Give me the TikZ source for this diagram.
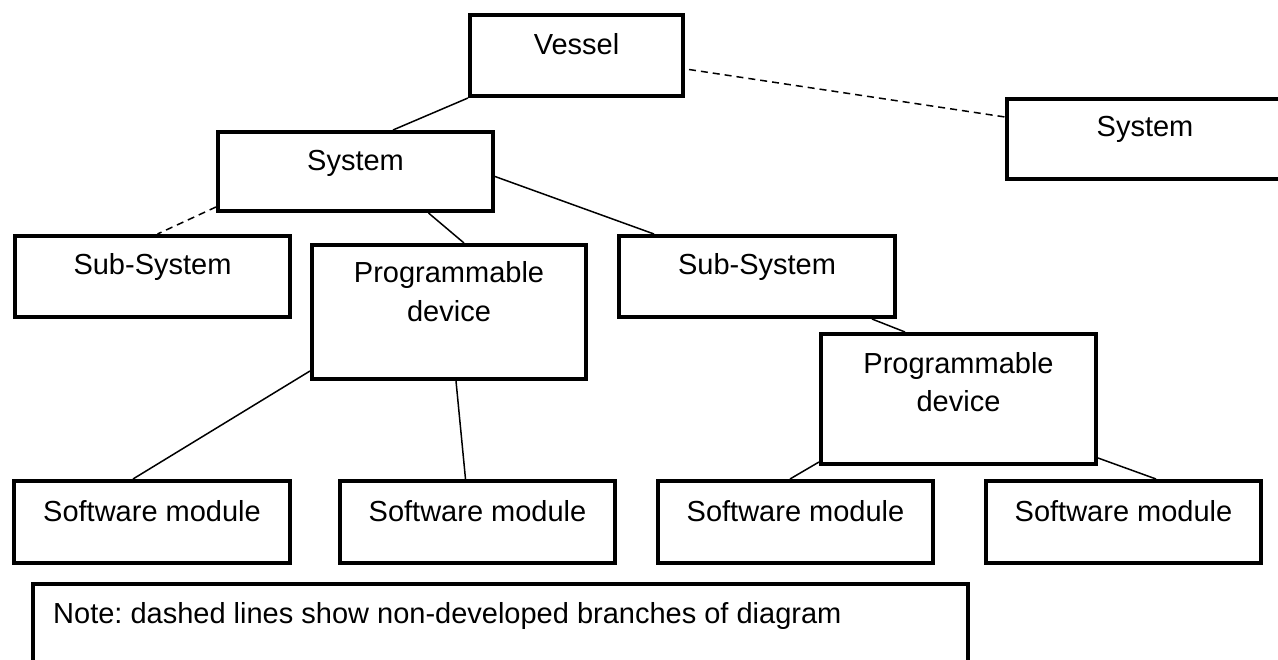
\documentclass[tikz,border=0pt]{standalone}
\usepackage{fontspec}
\setmainfont{Liberation Sans}
\usetikzlibrary{calc}
\frenchspacing
\tikzset{
  box/.style={draw=black, line width=4pt, rectangle, inner sep=0pt, fill=none},
  lbl/.style={inner sep=0pt, anchor=base, align=center, font=\fontsize{29}{38.5}\selectfont},
  conn/.style={line width=1.5pt, black},
  dconn/.style={line width=1.5pt, black, dash pattern=on 7pt off 5pt},
}
\begin{document}
\begin{tikzpicture}[x=1pt, y=-1pt]
\clip (0,0) rectangle (1278,660);
\fill[white] (0,0) rectangle (1278,660);
% boxes
\node[box, minimum width=213pt, minimum height=81pt] (vessel) at (576.5,55.5) {};
\node[box, minimum width=275pt, minimum height=79pt] (sysL) at (355.5,171.5) {};
\node[box, minimum width=276pt, minimum height=80pt] (sysR) at (1145,139) {};
\node[box, minimum width=275pt, minimum height=81pt] (subL) at (152.5,276.5) {};
\node[box, minimum width=274pt, minimum height=134pt] (pd1) at (449,312) {};
\node[box, minimum width=276pt, minimum height=81pt] (subR) at (757,276.5) {};
\node[box, minimum width=275pt, minimum height=130pt] (pd2) at (958.5,399) {};
\node[box, minimum width=276pt, minimum height=82pt] (sm1) at (152,522) {};
\node[box, minimum width=275pt, minimum height=82pt] (sm2) at (477.5,522) {};
\node[box, minimum width=275pt, minimum height=82pt] (sm3) at (795.5,522) {};
\node[box, minimum width=275pt, minimum height=82pt] (sm4) at (1123.5,522) {};
\node[box, minimum width=935pt, minimum height=114pt] (note) at (500.5,641) {};
% labels
\node[lbl] (vesselT) at ($(vessel.north)+(0,42)$) {Vessel};
\node[lbl] (sysLT) at ($(sysL.north)+(0,41)$) {System};
\node[lbl] (sysRT) at ($(sysR.north)+(0,40)$) {System};
\node[lbl] (subLT) at ($(subL.north)+(0,41)$) {Sub-System};
\node[lbl] (subRT) at ($(subR.north)+(0,41)$) {Sub-System};
\node[lbl] (pd1T) at ($(pd1.north)+(0,78.5)$) {Programmable\\device};
\node[lbl] (pd2T) at ($(pd2.north)+(0,79.5)$) {Programmable\\device};
\node[lbl] (sm1T) at ($(sm1.north)+(0,42)$) {Software module};
\node[lbl] (sm2T) at ($(sm2.north)+(0,42)$) {Software module};
\node[lbl] (sm3T) at ($(sm3.north)+(0,42)$) {Software module};
\node[lbl] (sm4T) at ($(sm4.north)+(0,42)$) {Software module};
\node[lbl, anchor=base west] (noteT) at ($(note.north west)+(22,41)$) {Note: dashed lines show non-developed branches of diagram};
% connectors
\draw[conn] (vessel.south west) -- ($(sysL.north west)+(177,0)$);
\draw[dconn] ($(vessel.east)+(4,14)$) -- ($(sysR.west)+(0,-22)$);
\draw[dconn] ($(sysL.south west)+(0,-6)$) -- ($(subL.north)+(5,0)$);
\draw[conn] ($(sysL.south)+(73,0)$) -- ($(pd1.north)+(15,0)$);
\draw[conn] ($(sysL.east)+(0,5)$) -- ($(subR.north west)+(37,0)$);
\draw[conn] ($(subR.south east)+(-25,0)$) -- ($(pd2.north west)+(86,0)$);
\draw[conn] ($(pd1.south west)+(0,-10)$) -- ($(sm1.north west)+(121,0)$);
\draw[conn] ($(pd1.south)+(7,0)$) -- ($(sm2.north)+(-12,0)$);
\draw[conn] ($(pd2.south west)+(0,-4)$) -- ($(sm3.north west)+(134,0)$);
\draw[conn] ($(pd2.south east)+(0,-8)$) -- ($(sm4.north west)+(172,0)$);
\end{tikzpicture}
\end{document}
